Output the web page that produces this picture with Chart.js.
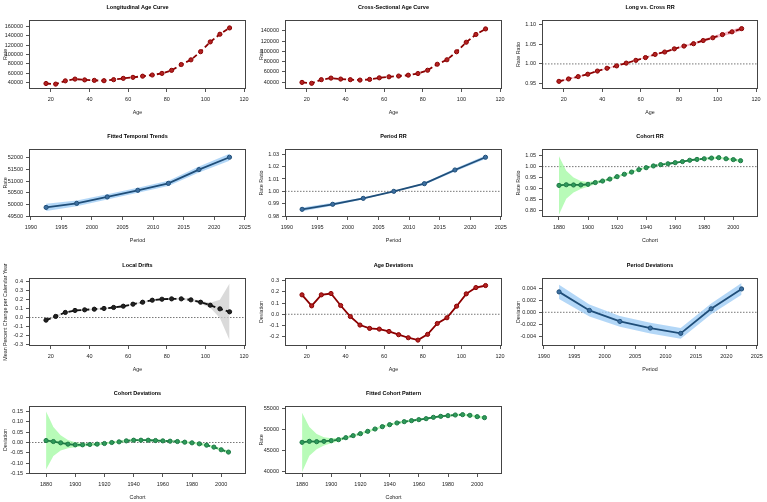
<!DOCTYPE html>
<html>
<head>
<meta charset="utf-8">
<script src="https://cdn.jsdelivr.net/npm/chart.js@4/dist/chart.umd.min.js"></script>
<style>
  html, body { margin: 0; padding: 0; background: #fff; width: 767px; height: 502px; overflow: hidden; }
  canvas { position: absolute; }
</style>
</head>
<body>
<script>
// x categories
const ageGroups = [17.5, 22.5, 27.5, 32.5, 37.5, 42.5, 47.5, 52.5, 57.5, 62.5, 67.5, 72.5, 77.5, 82.5, 87.5, 92.5, 97.5, 102.5, 107.5, 112.5];
const periods = [1992.5, 1997.5, 2002.5, 2007.5, 2012.5, 2017.5, 2022.5];
const cohorts = [1880, 1885, 1890, 1895, 1900, 1905, 1910, 1915, 1920, 1925, 1930, 1935, 1940, 1945, 1950, 1955, 1960, 1965, 1970, 1975, 1980, 1985, 1990, 1995, 2000, 2005];

// x tick labels
const ageTicks = [20, 40, 60, 80, 100, 120];
const periodTicks = [1990, 1995, 2000, 2005, 2010, 2015, 2020, 2025];
const cohortTicks = [1880, 1900, 1920, 1940, 1960, 1980, 2000];

// series and their CI half-widths
const longAge = [37800, 36500, 43500, 47300, 45500, 44500, 43800, 46000, 48800, 51000, 53500, 56000, 59500, 66000, 78500, 88500, 106000, 127000, 143500, 157000];
const crossAge = [39400, 37600, 44700, 47800, 45900, 44700, 43900, 45200, 48300, 50300, 51800, 53500, 56700, 63100, 74800, 83600, 99200, 117800, 133000, 143800];
const longCrossRR = [0.956, 0.962, 0.968, 0.974, 0.982, 0.989, 0.995, 1.002, 1.009, 1.016, 1.024, 1.030, 1.038, 1.045, 1.051, 1.059, 1.066, 1.074, 1.081, 1.089];
const longCrossCI = [0.0022, 0.002, 0.0018, 0.0016, 0.0015, 0.0014, 0.0013, 0.0012, 0.0012, 0.0013, 0.0015, 0.0017, 0.002, 0.0023, 0.0027, 0.0031, 0.0036, 0.0042, 0.0048, 0.0055];
const fittedTrend = [49890, 50060, 50330, 50610, 50900, 51480, 52000];
const fittedTrendCI = [150, 125, 110, 105, 110, 125, 145];
const periodRR = [0.9854, 0.9895, 0.9943, 1.0000, 1.0062, 1.0173, 1.0276];
const periodRRCI = [0.0015, 0.0012, 0.0008, 0.0003, 0.0008, 0.0012, 0.0015];
const cohortRR = [0.914, 0.917, 0.916, 0.916, 0.919, 0.927, 0.934, 0.943, 0.954, 0.965, 0.975, 0.986, 0.995, 1.003, 1.009, 1.013, 1.018, 1.023, 1.029, 1.033, 1.036, 1.039, 1.041, 1.036, 1.032, 1.027];
const cohortRRCI = [0.133, 0.064, 0.034, 0.018, 0.011, 0.008, 0.006, 0.005, 0.005, 0.004, 0.004, 0.004, 0.004, 0.004, 0.004, 0.004, 0.004, 0.004, 0.004, 0.004, 0.004, 0.005, 0.005, 0.005, 0.006, 0.006];
const localDrifts = [-0.029, 0.012, 0.056, 0.078, 0.085, 0.092, 0.100, 0.111, 0.125, 0.147, 0.169, 0.191, 0.202, 0.206, 0.206, 0.195, 0.169, 0.136, 0.096, 0.063];
const localDriftsCI = [0.012, 0.011, 0.010, 0.009, 0.009, 0.009, 0.009, 0.009, 0.009, 0.009, 0.009, 0.010, 0.010, 0.011, 0.011, 0.012, 0.016, 0.028, 0.10, 0.313];
const ageDev = [0.173, 0.075, 0.173, 0.185, 0.078, -0.020, -0.096, -0.126, -0.132, -0.153, -0.182, -0.209, -0.230, -0.179, -0.082, -0.031, 0.072, 0.182, 0.238, 0.256];
const ageDevCI = [0.007, 0.006, 0.006, 0.005, 0.005, 0.005, 0.005, 0.005, 0.005, 0.005, 0.005, 0.005, 0.005, 0.005, 0.005, 0.006, 0.007, 0.008, 0.010, 0.012];
const periodDev = [0.00344, 0.00031, -0.00154, -0.00266, -0.00355, 0.00059, 0.00394];
const periodDevCI = [0.0012, 0.0010, 0.0009, 0.0009, 0.0009, 0.0009, 0.0010];
const cohortDev = [0.0096, 0.0048, -0.0016, -0.008, -0.0112, -0.0112, -0.0096, -0.008, -0.0048, 0.0, 0.0032, 0.008, 0.0112, 0.0112, 0.0112, 0.0096, 0.008, 0.0064, 0.0048, 0.0016, -0.0016, -0.0064, -0.0128, -0.0224, -0.0352, -0.0465];
const cohortDevCI = [0.141, 0.07, 0.037, 0.02, 0.012, 0.008, 0.006, 0.006, 0.005, 0.005, 0.005, 0.005, 0.005, 0.005, 0.005, 0.005, 0.005, 0.005, 0.005, 0.005, 0.005, 0.006, 0.006, 0.006, 0.007, 0.007];
const cohortFit = [46950, 47180, 47100, 47180, 47340, 47580, 48050, 48530, 49000, 49550, 50100, 50660, 51130, 51530, 51840, 52080, 52320, 52550, 52870, 53100, 53260, 53420, 53500, 53340, 53030, 52790];
const cohortFitCI = [7000, 3400, 1800, 1000, 600, 400, 300, 250, 250, 250, 250, 250, 250, 250, 250, 250, 250, 250, 250, 250, 250, 250, 250, 250, 300, 300];

// y tick labels
const longAgeTicks = [40000, 60000, 80000, 100000, 120000, 140000, 160000];
const crossAgeTicks = [40000, 60000, 80000, 100000, 120000, 140000];
const longCrossTicks = [0.95, 1.00, 1.05, 1.10];
const trendTicks = [49500, 50000, 50500, 51000, 51500, 52000];
const periodRRTicks = [0.98, 0.99, 1.00, 1.01, 1.02, 1.03];
const cohortRRTicks = [0.80, 0.85, 0.90, 0.95, 1.00, 1.05];
const driftTicks = [-0.3, -0.2, -0.1, 0.0, 0.1, 0.2, 0.3, 0.4];
const ageDevTicks = [-0.2, -0.1, 0.0, 0.1, 0.2, 0.3];
const periodDevTicks = [-0.004, -0.002, 0.000, 0.002, 0.004];
const cohortDevTicks = [-0.15, -0.10, -0.05, 0.00, 0.05, 0.10, 0.15];
const cohortFitTicks = [40000, 45000, 50000, 55000];

const FONT = "'Liberation Sans', Arial, Helvetica, sans-serif";
const RED = { line: '#8b0000', point: '#b22222', band: 'rgba(244,165,185,0.8)' };
const BLUE = { line: '#1f4e79', point: '#3d6fa0', band: 'rgba(160,205,245,0.8)' };
const GREEN = { line: '#1d7a45', point: '#2e9a5a', band: 'rgba(160,250,160,0.75)' };
const BLACK = { line: '#111111', point: '#222222', band: 'rgba(205,205,205,0.75)' };

const AGE_X = [8.7, 121];
const PER_X = [1989.7, 2025.2];
const COH_X = [1868.3, 2017];

const COLS = [0, 256, 513];
const PAD_R = [10, 10, 11];
const ROWS = [0, 129, 258, 386];

const panels = [
  { col: 0, row: 0, title: 'Longitudinal Age Curve', x: ageGroups, xr: AGE_X, xt: ageTicks, xl: 'Age',
    y: longAge, yr: [26000, 174000], yt: longAgeTicks, dec: 0, yl: 'Rate', c: RED, dash: true },
  { col: 1, row: 0, title: 'Cross-Sectional Age Curve', x: ageGroups, xr: AGE_X, xt: ageTicks, xl: 'Age',
    y: crossAge, yr: [26500, 161200], yt: crossAgeTicks, dec: 0, yl: 'Rate', c: RED, dash: true },
  { col: 2, row: 0, title: 'Long vs. Cross RR', x: ageGroups, xr: AGE_X, xt: ageTicks, xl: 'Age',
    y: longCrossRR, ci: longCrossCI, yr: [0.9367, 1.1108], yt: longCrossTicks, dec: 2, yl: 'Rate Ratio', c: RED, dash: true, ref: 1 },
  { col: 0, row: 1, title: 'Fitted Temporal Trends', x: periods, xr: PER_X, xt: periodTicks, xl: 'Period',
    y: fittedTrend, ci: fittedTrendCI, yr: [49487, 52346], yt: trendTicks, dec: 0, yl: 'Rate', c: BLUE, dash: false },
  { col: 1, row: 1, title: 'Period RR', x: periods, xr: PER_X, xt: periodTicks, xl: 'Period',
    y: periodRR, ci: periodRRCI, yr: [0.9792, 1.0343], yt: periodRRTicks, dec: 2, yl: 'Rate Ratio', c: BLUE, dash: false, ref: 1 },
  { col: 2, row: 1, title: 'Cohort RR', x: cohorts, xr: COH_X, xt: cohortTicks, xl: 'Cohort',
    y: cohortRR, ci: cohortRRCI, yr: [0.7694, 1.0806], yt: cohortRRTicks, dec: 2, yl: 'Rate Ratio', c: GREEN, dash: true, ref: 1 },
  { col: 0, row: 2, title: 'Local Drifts', x: ageGroups, xr: AGE_X, xt: ageTicks, xl: 'Age',
    y: localDrifts, ci: localDriftsCI, yr: [-0.3143, 0.4363], yt: driftTicks, dec: 1, yl: 'Mean Percent Change per Calendar Year', c: BLACK, dash: true, ref: 0 },
  { col: 1, row: 2, title: 'Age Deviations', x: ageGroups, xr: AGE_X, xt: ageTicks, xl: 'Age',
    y: ageDev, ci: ageDevCI, yr: [-0.2826, 0.3231], yt: ageDevTicks, dec: 1, yl: 'Deviation', c: RED, dash: false, ref: 0 },
  { col: 2, row: 2, title: 'Period Deviations', x: periods, xr: PER_X, xt: periodTicks, xl: 'Period',
    y: periodDev, ci: periodDevCI, yr: [-0.00568, 0.00578], yt: periodDevTicks, dec: 3, yl: 'Deviation', c: BLUE, dash: false, ref: 0 },
  { col: 0, row: 3, title: 'Cohort Deviations', x: cohorts, xr: COH_X, xt: cohortTicks, xl: 'Cohort',
    y: cohortDev, ci: cohortDevCI, yr: [-0.153, 0.1774], yt: cohortDevTicks, dec: 2, yl: 'Deviation', c: GREEN, dash: true, ref: 0 },
  { col: 1, row: 3, title: 'Fitted Cohort Pattern', x: cohorts, xr: COH_X, xt: cohortTicks, xl: 'Cohort',
    y: cohortFit, ci: cohortFitCI, yr: [39450, 55550], yt: cohortFitTicks, dec: 0, yl: 'Rate', c: GREEN, dash: true }
];

// box around the plot region + main title, R style
const rbox = {
  id: 'rbox',
  afterDatasetsDraw(chart, args, opts) {
    const { ctx, chartArea: a } = chart;
    ctx.save();
    ctx.strokeStyle = '#444';
    ctx.lineWidth = 1;
    const l = Math.round(a.left) + 0.5, t = Math.round(a.top) + 0.5;
    ctx.strokeRect(l, t, Math.round(a.right) - Math.round(a.left) - 1, Math.round(a.bottom) - Math.round(a.top) - 1);
    ctx.fillStyle = '#000';
    ctx.font = 'bold 5.5px ' + FONT;
    ctx.textAlign = 'center';
    ctx.textBaseline = 'middle';
    ctx.fillText(opts.title, (a.left + a.right) / 2, a.top - 12.8);
    ctx.restore();
  }
};

function axis(range, ticks, dec, label, horizontal) {
  return {
    type: 'linear',
    min: range[0],
    max: range[1],
    afterBuildTicks: s => { s.ticks = ticks.map(v => ({ value: v })); },
    afterFit: s => {
      if (horizontal) s.height = 27.2; else s.width = 26.2;
      s.paddingLeft = s.paddingRight = s.paddingTop = s.paddingBottom = 0;
    },
    grid: { display: true, drawOnChartArea: false, drawTicks: true, tickLength: 3, color: '#555', lineWidth: 1 },
    border: { display: false },
    ticks: {
      autoSkip: false, maxRotation: 0, minRotation: 0,
      padding: horizontal ? 4 : 3,
      color: '#222',
      font: { family: FONT, size: 5.5 },
      callback: v => Number(v).toFixed(dec)
    },
    title: { display: true, text: label, color: '#222', padding: 0, font: { family: FONT, size: 5.3 } }
  };
}

panels.forEach(p => {
  const cv = document.createElement('canvas');
  cv.width = 256;
  cv.height = 126;
  cv.style.left = COLS[p.col] + 'px';
  cv.style.top = ROWS[p.row] + 'px';
  document.body.appendChild(cv);

  const datasets = [{
    data: p.x.map((x, i) => ({ x: x, y: p.y[i] })),
    borderColor: p.c.line,
    borderWidth: 1.8,
    borderDash: p.dash ? [5, 3] : [],
    pointRadius: 2.1,
    pointBackgroundColor: p.c.point,
    pointBorderColor: p.c.line,
    pointBorderWidth: 1,
    tension: 0,
    fill: false
  }];
  if (p.ci) {
    datasets.push({
      data: p.x.map((x, i) => ({ x: x, y: p.y[i] - p.ci[i] })),
      borderColor: 'rgba(0,0,0,0)', borderWidth: 0, pointRadius: 0, fill: false
    });
    datasets.push({
      data: p.x.map((x, i) => ({ x: x, y: p.y[i] + p.ci[i] })),
      borderColor: 'rgba(0,0,0,0)', borderWidth: 0, pointRadius: 0,
      backgroundColor: p.c.band, fill: 1
    });
  }
  if (p.ref !== undefined) {
    datasets.push({
      data: [{ x: p.xr[0], y: p.ref }, { x: p.xr[1], y: p.ref }],
      borderColor: '#777', borderWidth: 1, borderDash: [1.5, 1.5], pointRadius: 0, fill: false
    });
  }

  new Chart(cv, {
    type: 'line',
    data: { datasets: datasets },
    options: {
      responsive: false,
      animation: false,
      devicePixelRatio: 1,
      events: [],
      layout: {
        autoPadding: false,
        padding: { left: 2.8, right: PAD_R[p.col], top: 20, bottom: p.row === 0 ? 9.8 : 10.8 }
      },
      plugins: {
        legend: { display: false },
        tooltip: { enabled: false },
        rbox: { title: p.title }
      },
      scales: {
        x: axis(p.xr, p.xt, 0, p.xl, true),
        y: axis(p.yr, p.yt, p.dec, p.yl, false)
      }
    },
    plugins: [rbox]
  });
});
</script>
</body>
</html>
